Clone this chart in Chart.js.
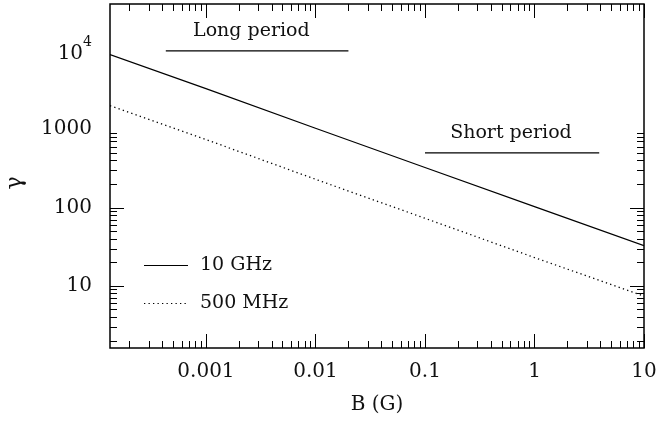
<!DOCTYPE html>
<html>
<head>
<meta charset="utf-8">
<script src="https://cdn.jsdelivr.net/npm/chart.js@4/dist/chart.umd.min.js"></script>
<style>
html,body{margin:0;padding:0;background:#fff;}
#wrap{width:661px;height:421px;}
</style>
</head>
<body>
<div id="wrap"><canvas id="c" width="661" height="421"></canvas></div>
<script>
// ---- data ----
const bValues      = [1.33e-4, 0.001, 0.01, 0.1, 1, 10];
const gamma10GHz   = [9000, 3300, 1030, 325, 103, 32.7];
const gamma500MHz  = [2000, 740, 230, 73, 23, 7.4];
const seriesNames  = ['10 GHz', '500 MHz'];

const xTickValues  = [0.001, 0.01, 0.1, 1, 10];
const xTickLabels  = ['0.001', '0.01', '0.1', '1', '10'];
const yTickValues  = [10, 100, 1000, 10000];
const yTickLabels  = ['10', '100', '1000', '10^4'];

const xRange = [1.33e-4, 10];
const yRange = [1.61, 3.98e4];

const periodNames  = ['Long period', 'Short period'];
const periodStartB = [4.3e-4, 0.1];
const periodEndB   = [0.02, 3.9];
const periodGamma  = [1.0e4, 500];
const periodLabelB = [2.6e-3, 0.61];

const xTitle = 'B (G)';
const yTitle = '\u03b3';

// ---- chart ----
const FONT = '"DejaVu Serif", serif';
const TEXT = '#111';
const seg = (i) => [{x: periodStartB[i], y: periodGamma[i]}, {x: periodEndB[i], y: periodGamma[i]}];

const datasets = [
  {label: seriesNames[0], data: bValues.map((b,i)=>({x:b, y:gamma10GHz[i]})),
   borderColor:'#000', borderWidth:1.2, pointRadius:0, fill:false},
  {label: seriesNames[1], data: bValues.map((b,i)=>({x:b, y:gamma500MHz[i]})),
   borderColor:'#000', borderWidth:1.3, borderDash:[1.3,3.2], pointRadius:0, fill:false},
  {label: periodNames[0], data: seg(0), borderColor:'#000', borderWidth:1.2, pointRadius:0},
  {label: periodNames[1], data: seg(1), borderColor:'#000', borderWidth:1.2, pointRadius:0}
];

const zeroPad = s => { s.paddingTop = 0; s.paddingBottom = 0; s.paddingLeft = 0; s.paddingRight = 0; };

const decorPlugin = {
  id: 'decor',
  afterDraw(chart) {
    const ctx = chart.ctx, ca = chart.chartArea;
    const xs = chart.scales.x, ys = chart.scales.y;
    ctx.save();
    ctx.strokeStyle = '#000';
    // frame
    ctx.lineWidth = 1.5;
    ctx.strokeRect(ca.left, ca.top, ca.right - ca.left, ca.bottom - ca.top);
    // ticks on all sides
    ctx.lineWidth = 1;
    ctx.beginPath();
    for (let n = -5; n <= 2; n++) {
      for (let m = 1; m <= 9; m++) {
        const v = m * Math.pow(10, n);
        if (v >= xRange[0]*0.999 && v <= xRange[1]*1.001) {
          const px = Math.round(xs.getPixelForValue(v)) + 0.5;
          const len = m === 1 ? 14 : 7;
          ctx.moveTo(px, ca.bottom); ctx.lineTo(px, ca.bottom - len);
          ctx.moveTo(px, ca.top); ctx.lineTo(px, ca.top + len);
        }
        if (v >= yRange[0]*0.999 && v <= yRange[1]*1.001) {
          const py = Math.round(ys.getPixelForValue(v)) + 0.5;
          const len = m === 1 ? 14 : 7;
          ctx.moveTo(ca.left, py); ctx.lineTo(ca.left + len, py);
          ctx.moveTo(ca.right, py); ctx.lineTo(ca.right - len, py);
        }
      }
    }
    ctx.stroke();
    ctx.fillStyle = TEXT;
    // y tick labels with exponent (e.g. 10^4)
    ctx.textBaseline = 'middle';
    yTickLabels.forEach((lab, i) => {
      if (lab.indexOf('^') < 0) return;
      const [base, exp] = lab.split('^');
      const py = ys.getPixelForValue(yTickValues[i]);
      const right = ca.left - 18;
      ctx.font = '14px ' + FONT;
      const ew = ctx.measureText(exp).width;
      ctx.textAlign = 'left';
      ctx.fillText(exp, right - ew, py - 9);
      ctx.font = '20px ' + FONT;
      ctx.textAlign = 'right';
      ctx.fillText(base, right - ew, py + 3);
    });
    // period labels
    ctx.font = '19px ' + FONT;
    ctx.textAlign = 'center';
    for (let i = 0; i < periodNames.length; i++) {
      ctx.fillText(periodNames[i], xs.getPixelForValue(periodLabelB[i]), ys.getPixelForValue(periodGamma[i]) - 20);
    }
    // legend
    const lx0 = ca.left + 34, lx1 = ca.left + 78, tx = ca.left + 90;
    const ly = [ca.bottom - 83, ca.bottom - 45];
    ctx.lineWidth = 1.2;
    for (let i = 0; i < 2; i++) {
      ctx.setLineDash(i === 1 ? [1.3, 3.2] : []);
      ctx.beginPath(); ctx.moveTo(lx0, ly[i] + 0.5); ctx.lineTo(lx1, ly[i] + 0.5); ctx.stroke();
    }
    ctx.setLineDash([]);
    ctx.textAlign = 'left';
    ctx.font = '19px ' + FONT;
    for (let i = 0; i < 2; i++) ctx.fillText(seriesNames[i], tx, ly[i]);
    // axis titles
    ctx.font = '20px ' + FONT;
    ctx.textAlign = 'center';
    ctx.fillText(xTitle, (ca.left + ca.right) / 2, 405);
    ctx.translate(15, (ca.top + ca.bottom) / 2 + 7);
    ctx.rotate(-Math.PI / 2);
    ctx.font = '22px ' + FONT;
    ctx.fillText(yTitle, 0, 0);
    ctx.restore();
  }
};

new Chart(document.getElementById('c'), {
  type: 'line',
  data: {datasets},
  options: {
    responsive: false,
    animation: false,
    devicePixelRatio: 1,
    layout: {padding: {top: 4, right: 17, left: 0, bottom: 0}},
    plugins: {legend: {display: false}, tooltip: {enabled: false}},
    elements: {line: {tension: 0}},
    scales: {
      x: {
        type: 'logarithmic', min: xRange[0], max: xRange[1],
        grid: {display: false, drawTicks: false}, border: {display: false},
        afterBuildTicks: s => { s.ticks = xTickValues.map(v => ({value: v})); },
        afterFit: s => { s.height = 73; zeroPad(s); },
        ticks: {
          autoSkip: false, maxRotation: 0, color: TEXT, padding: 12,
          font: {family: FONT, size: 20},
          callback: (v, i) => xTickLabels[i]
        }
      },
      y: {
        type: 'logarithmic', min: yRange[0], max: yRange[1],
        grid: {display: false, drawTicks: false}, border: {display: false},
        afterBuildTicks: s => { s.ticks = yTickValues.map(v => ({value: v})); },
        afterFit: s => { s.width = 110; zeroPad(s); },
        ticks: {
          autoSkip: false, color: TEXT, padding: 18,
          font: {family: FONT, size: 20},
          callback: (v, i) => (yTickLabels[i].indexOf('^') < 0 ? yTickLabels[i] : '')
        }
      }
    }
  },
  plugins: [decorPlugin]
});
</script>
</body>
</html>
